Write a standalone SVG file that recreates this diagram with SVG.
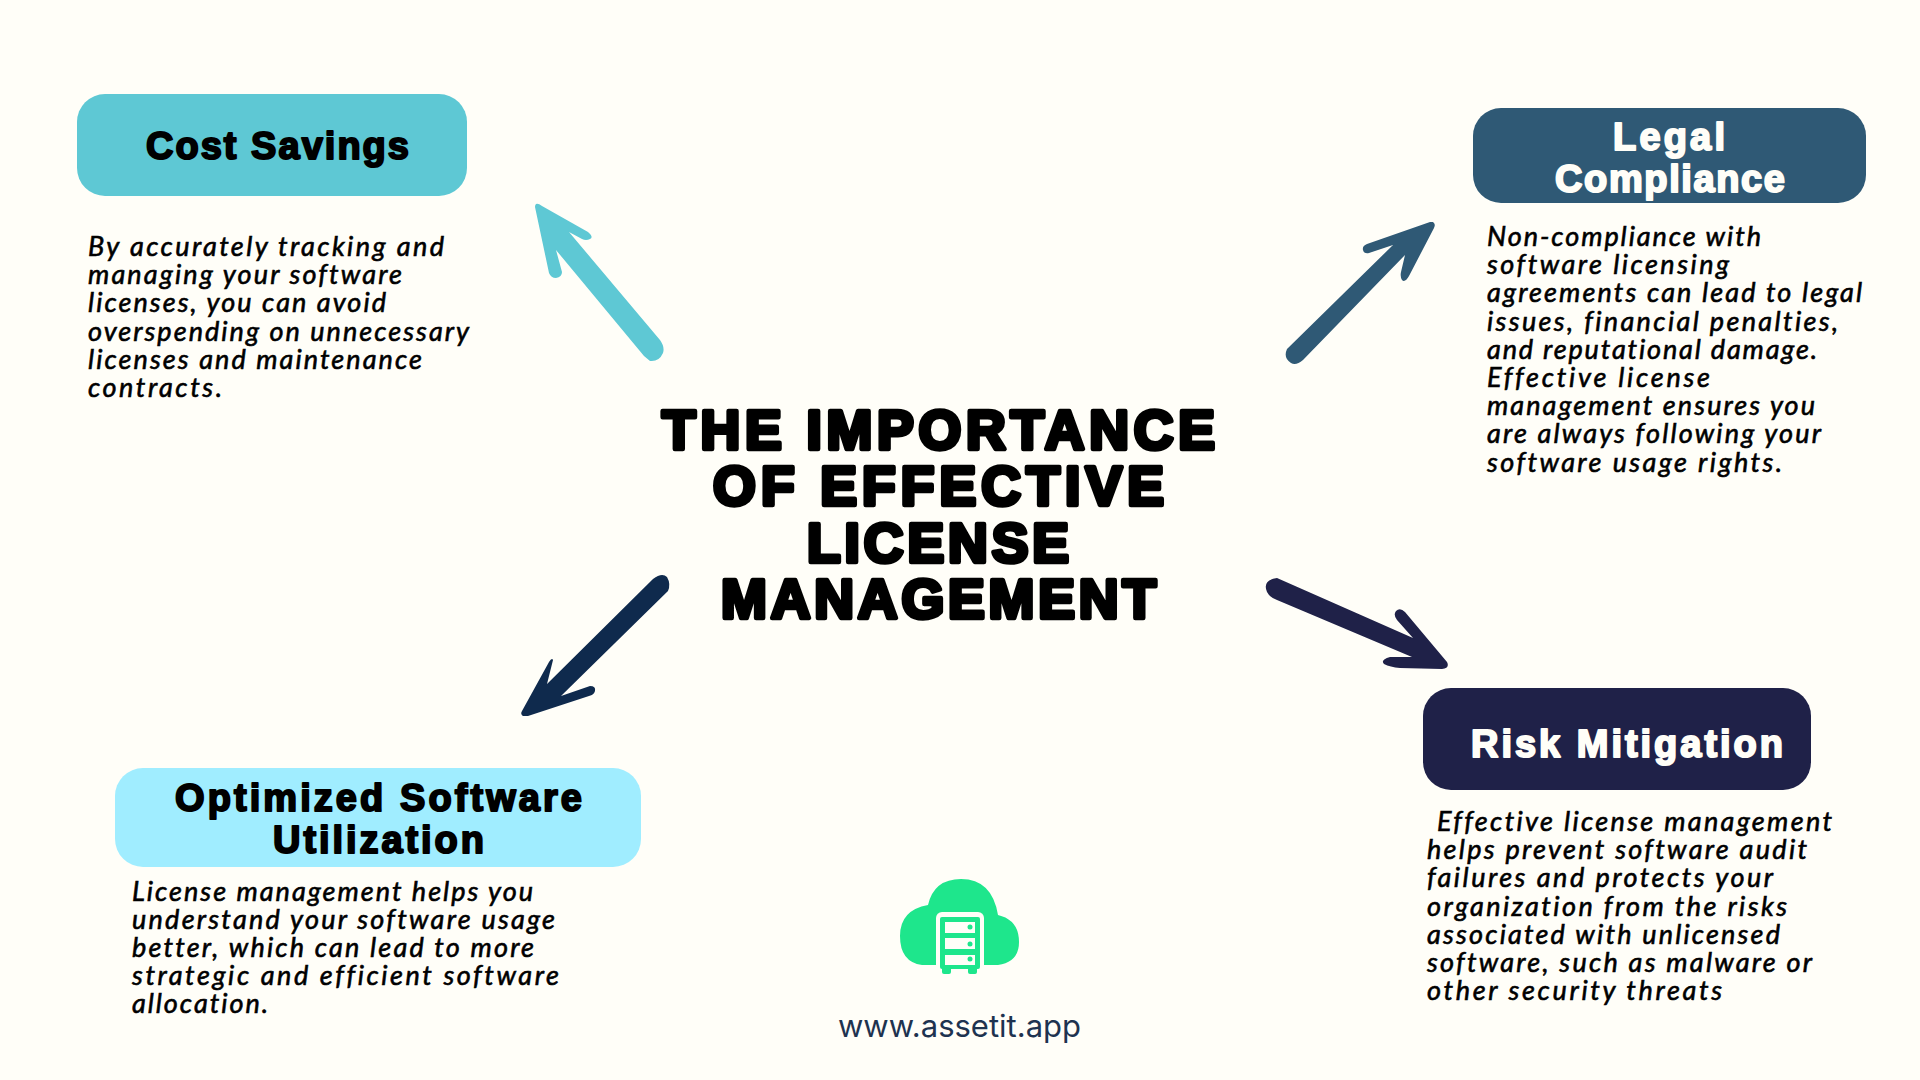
<svg xmlns="http://www.w3.org/2000/svg" width="1920" height="1080" viewBox="0 0 1920 1080">
<style>
text{font-variant-ligatures:none}
.title{font-family:"Liberation Sans",Arial,sans-serif;font-weight:700;font-size:55px;fill:#000;stroke:#000;stroke-width:4.5px;stroke-linejoin:round}
.head{font-family:"Liberation Sans",Arial,sans-serif;font-weight:700;font-size:38px;stroke-width:2px;stroke-linejoin:round}
.dark{fill:#000;stroke:#000}
.light{fill:#fffef8;stroke:#fffef8}
.body{font-family:"Lato","Noto Sans",sans-serif;font-style:italic;font-weight:400;font-size:27px;fill:#000;stroke:#000;stroke-width:.6px}
.url{font-family:"Inter","Noto Sans",sans-serif;font-size:31px;fill:#1e3350}
</style>
<rect width="1920" height="1080" fill="#fffef8"/>
<g id="connectors">
<path id="arrow-cost" fill="#5ec8d4" d="M536 204Q538 203 542 206L588 232Q594 237 590 239Q586 241 582 239L569 232L660 340Q665 347 663 353Q659 362 650 361L644 356L556 250L562 272Q562 277 556 278Q551 278 549 273L535 207Q535 205 536 204Z"/>
<path id="arrow-legal" fill="#2f5975" d="M1433 222Q1436 224 1434 228L1409 276Q1405 283 1402 280Q1400 277 1401 272L1405 255L1303 360Q1296 366 1291 363Q1283 358 1287 349L1393 245L1369 253Q1364 254 1363 250Q1362 246 1367 244L1430 222Z"/>
<path id="arrow-opt" fill="#0f2a4d" d="M523 716Q520 714 522 711L549 662Q552 657 553 660L547 684L653 579Q662 572 667 577Q671 584 668 591L561 696L590 686Q596 686 595 691Q594 695 589 696L528 716Z"/>
<path id="arrow-risk" fill="#1f2148" d="M1277 578Q1262 580 1267 592Q1270 598 1277 600L1412 657L1390 657Q1380 660 1384 664Q1390 667 1400 668L1442 669Q1450 668 1447 662L1405 612Q1400 607 1396 611Q1393 615 1397 620L1413 638Z"/>
</g>
<g id="title">
<text class="title"><tspan x="662" y="449" textLength="553">THE IMPORTANCE</tspan><tspan x="713" y="505" textLength="451">OF EFFECTIVE</tspan><tspan x="807" y="562" textLength="262">LICENSE</tspan><tspan x="721" y="618" textLength="435">MANAGEMENT</tspan></text>
</g>
<g id="cost-savings">
<rect x="77" y="94" width="390" height="102" rx="28" fill="#5ec8d4"/>
<text class="head dark" x="146" y="159" textLength="263">Cost Savings</text>
<text class="body"><tspan x="88" y="256" textLength="356">By accurately tracking and</tspan><tspan x="88" y="284" textLength="314">managing your software</tspan><tspan x="88" y="312" textLength="298">licenses, you can avoid</tspan><tspan x="88" y="341" textLength="381">overspending on unnecessary</tspan><tspan x="88" y="369" textLength="334">licenses and maintenance</tspan><tspan x="88" y="397" textLength="134">contracts.</tspan></text>
</g>
<g id="legal-compliance">
<rect x="1473" y="108" width="393" height="95" rx="28" fill="#2f5975"/>
<text class="head light"><tspan x="1613" y="150" textLength="112">Legal</tspan><tspan x="1555" y="192" textLength="230">Compliance</tspan></text>
<text class="body"><tspan x="1487" y="246" textLength="274">Non-compliance with</tspan><tspan x="1487" y="274" textLength="242">software licensing</tspan><tspan x="1487" y="302" textLength="375">agreements can lead to legal</tspan><tspan x="1487" y="331" textLength="351">issues, financial penalties,</tspan><tspan x="1487" y="359" textLength="330">and reputational damage.</tspan><tspan x="1487" y="387" textLength="223">Effective license</tspan><tspan x="1487" y="415" textLength="328">management ensures you</tspan><tspan x="1487" y="443" textLength="334">are always following your</tspan><tspan x="1487" y="472" textLength="295">software usage rights.</tspan></text>
</g>
<g id="risk-mitigation">
<rect x="1423" y="688" width="388" height="102" rx="28" fill="#1f2148"/>
<text class="head light" x="1471" y="757" textLength="312">Risk Mitigation</text>
<text class="body"><tspan x="1437" y="831" textLength="395">Effective license management</tspan><tspan x="1427" y="859" textLength="380">helps prevent software audit</tspan><tspan x="1427" y="887" textLength="346">failures and protects your</tspan><tspan x="1427" y="916" textLength="360">organization from the risks</tspan><tspan x="1427" y="944" textLength="353">associated with unlicensed</tspan><tspan x="1427" y="972" textLength="385">software, such as malware or</tspan><tspan x="1427" y="1000" textLength="295">other security threats</tspan></text>
</g>
<g id="optimized-software">
<rect x="115" y="768" width="526" height="99" rx="28" fill="#a0edff"/>
<text class="head dark"><tspan x="175" y="811" textLength="407">Optimized Software</tspan><tspan x="273" y="853" textLength="211">Utilization</tspan></text>
<text class="body"><tspan x="132" y="901" textLength="401">License management helps you</tspan><tspan x="132" y="929" textLength="423">understand your software usage</tspan><tspan x="132" y="957" textLength="402">better, which can lead to more</tspan><tspan x="132" y="985" textLength="427">strategic and efficient software</tspan><tspan x="132" y="1013" textLength="136">allocation.</tspan></text>
</g>
<g id="logo">
<path fill="#1ee68c" d="M922 965Q900 962 900 936Q900 910 928 905Q934 879 961 879Q992 879 998 915Q1019 920 1019 942Q1019 962 998 965Z"/>
<rect x="936" y="912" width="48" height="62" rx="6" fill="#fffef8"/>
<rect x="940" y="917" width="40" height="52" rx="2" fill="#1ee68c"/>
<rect x="942" y="966" width="9" height="8" rx="2" fill="#1ee68c"/>
<rect x="968" y="966" width="9" height="8" rx="2" fill="#1ee68c"/>
<rect x="945" y="922" width="30" height="11" fill="#fffef8"/>
<rect x="945" y="938" width="30" height="11" fill="#fffef8"/>
<rect x="945" y="955" width="30" height="10" fill="#fffef8"/>
<circle cx="970" cy="927" r="2.5" fill="#1ee68c"/>
<circle cx="970" cy="944" r="2.5" fill="#1ee68c"/>
<circle cx="970" cy="959" r="2.5" fill="#1ee68c"/>
<text class="url" x="838" y="1037" textLength="243">www.assetit.app</text>
</g>
</svg>
